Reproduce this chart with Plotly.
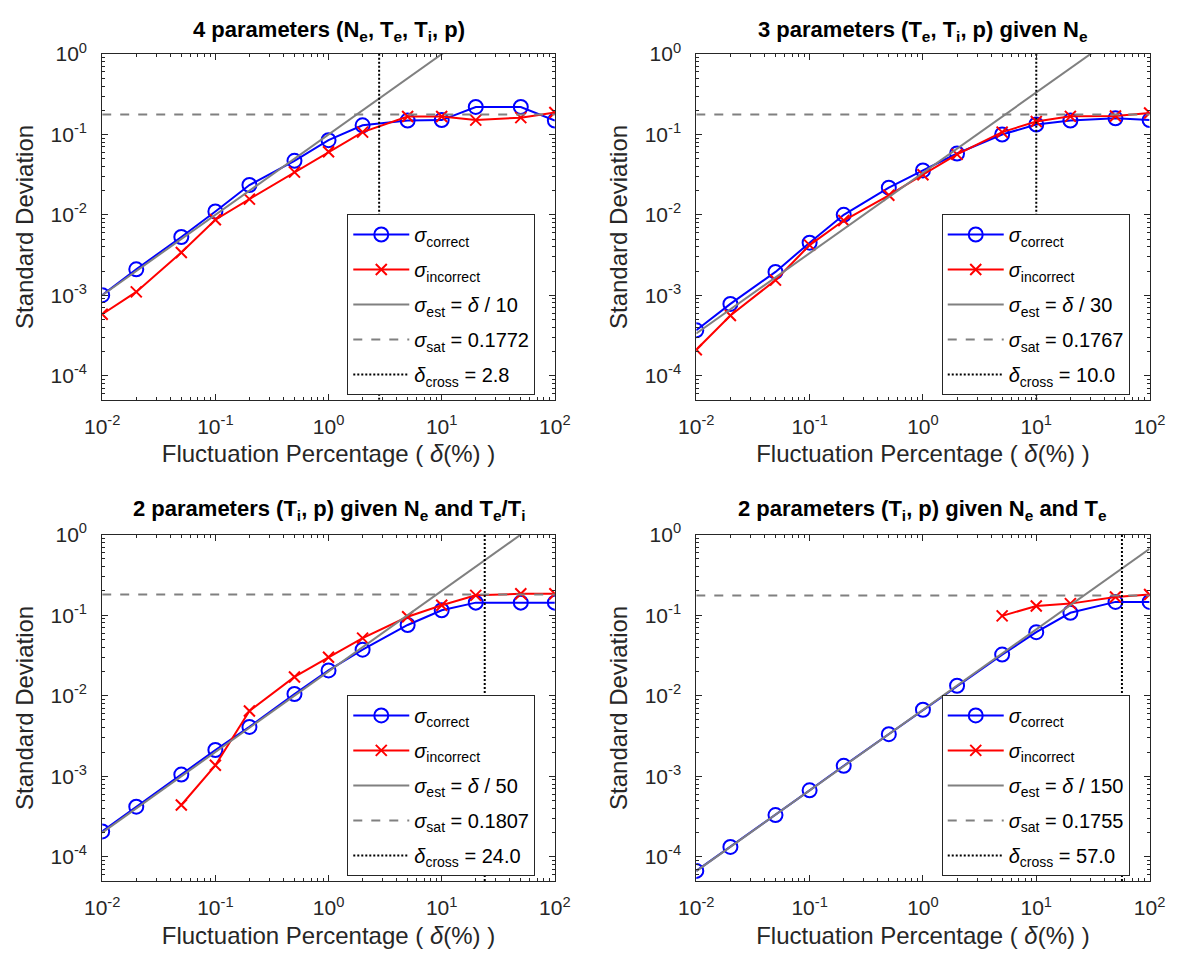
import plotly.graph_objects as go

# Fluctuation percentages (x values shared by every panel)
delta = [0.01, 0.02, 0.05, 0.1, 0.2, 0.5, 1, 2, 5, 10, 20, 50, 100]

# Panel titles
titles = [
    "<b>4 parameters (N<sub>e</sub>, T<sub>e</sub>, T<sub>i</sub>, p)</b>",
    "<b>3 parameters (T<sub>e</sub>, T<sub>i</sub>, p) given N<sub>e</sub></b>",
    "<b>2 parameters (T<sub>i</sub>, p) given N<sub>e</sub> and T<sub>e</sub>/T<sub>i</sub></b>",
    "<b>2 parameters (T<sub>i</sub>, p) given N<sub>e</sub> and T<sub>e</sub></b>",
]

# Standard deviations, correct model
correct_4 = [1.0e-3, 2.1e-3, 5.3e-3, 1.1e-2, 2.35e-2, 0.047, 0.085, 0.13, 0.149, 0.151, 0.22, 0.22, 0.149]
correct_3 = [3.66e-4, 7.8e-4, 1.95e-3, 4.5e-3, 0.0100, 0.0218, 0.0357, 0.058, 0.100, 0.133, 0.149, 0.159, 0.151]
correct_2a = [2.07e-4, 4.2e-4, 1.05e-3, 2.12e-3, 4.1e-3, 0.0105, 0.0206, 0.0373, 0.0755, 0.115, 0.143, 0.143, 0.143]
correct_2b = [6.7e-5, 1.33e-4, 3.3e-4, 6.7e-4, 1.35e-3, 3.33e-3, 6.7e-3, 0.0133, 0.0324, 0.0614, 0.107, 0.146, 0.146]

# Standard deviations, incorrect model (None = no converged value)
incorrect_4 = [5.8e-4, 1.1e-3, 3.4e-3, 8.7e-3, 0.0157, 0.034, 0.061, 0.107, 0.167, 0.167, 0.151, 0.162, 0.188]
incorrect_3 = [2.1e-4, 5.6e-4, 1.54e-3, 4.2e-3, 8.5e-3, 0.0175, 0.0316, 0.0565, 0.107, 0.145, 0.168, 0.170, 0.185]
incorrect_2a = [None, None, 4.4e-4, 1.37e-3, 6.45e-3, 0.0171, 0.030, 0.0519, 0.0955, 0.1325, 0.176, 0.184, 0.184]
incorrect_2b = [None, None, None, None, None, None, None, None, 0.098, 0.130, 0.139, 0.168, 0.180]

# Fit parameters per panel
est_divisor = [10, 30, 50, 150]
sigma_sat = [0.1772, 0.1767, 0.1807, 0.1755]
delta_cross = [2.8, 10.0, 24.0, 57.0]

correct = [correct_4, correct_3, correct_2a, correct_2b]
incorrect = [incorrect_4, incorrect_3, incorrect_2a, incorrect_2b]

W, H = 1186, 957
INK = "#262626"
FONT = "Liberation Sans, Arial, sans-serif"

# Axes boxes in pixels: (left, right, top, bottom)
boxes = [
    (86.7, 552.7, 40.7, 391.5),
    (698.3, 1165.0, 40.7, 391.5),
    (86.7, 552.7, 528.3, 880.0),
    (698.3, 1165.0, 528.3, 880.0),
]
legend_pos = [(339, 203), (951, 203), (339, 691), (951, 691)]
title_y = [17, 17, 503, 503]

YMIN = 5e-5
minor_vals = [m * 10 ** e for e in range(-5, 3) for m in range(2, 10)]

fig = go.Figure()

for i in range(4):
    sfx = "" if i == 0 else str(i + 1)
    xa, ya, lg = "x" + sfx, "y" + sfx, "legend" + sfx
    common = dict(xaxis=xa, yaxis=ya, legend=lg)

    fig.add_trace(go.Scatter(
        x=delta, y=correct[i], mode="lines+markers",
        name="<i>σ</i><sub>correct</sub>", legendgroup=f"c{i}",
        line=dict(color="#0000ff", width=2),
        marker=dict(symbol="circle-open", size=14, color="#0000ff", line=dict(width=2)),
        **common))
    fig.add_trace(go.Scatter(
        x=delta, y=incorrect[i], mode="lines+markers",
        name="<i>σ</i><sub>incorrect</sub>", legendgroup=f"i{i}",
        line=dict(color="#ff0000", width=2),
        marker=dict(symbol="x-thin-open", size=11, color="#ff0000", line=dict(width=2, color="#ff0000")),
        **common))
    fig.add_trace(go.Scatter(
        x=[delta[0], delta[-1]], y=[delta[0] / est_divisor[i], delta[-1] / est_divisor[i]],
        mode="lines", name=f"<i>σ</i><sub>est</sub> = <i>δ</i> / {est_divisor[i]}",
        legendgroup=f"e{i}", line=dict(color="#808080", width=2), **common))
    fig.add_trace(go.Scatter(
        x=[delta[0], delta[-1]], y=[sigma_sat[i], sigma_sat[i]],
        mode="lines", name=f"<i>σ</i><sub>sat</sub> = {sigma_sat[i]:.4f}",
        legendgroup=f"s{i}", line=dict(color="#808080", width=2, dash="9px,9px"), **common))
    fig.add_trace(go.Scatter(
        x=[delta_cross[i], delta_cross[i]], y=[YMIN, 1],
        mode="lines", name=f"<i>δ</i><sub>cross</sub> = {delta_cross[i]:.1f}",
        legendgroup=f"d{i}", line=dict(color="#000000", width=2, dash="2px,2px"), **common))

    l, r, t, b = boxes[i]
    axis_base = dict(
        type="log", showline=True, linecolor=INK, linewidth=1, mirror="allticks",
        ticks="inside", ticklen=6, tickcolor=INK, showgrid=False, zeroline=False,
        tickfont=dict(size=21, color=INK, family=FONT),
        minor=dict(ticks="inside", ticklen=3, tickcolor=INK, tickvals=minor_vals, showgrid=False),
    )
    fig.layout["xaxis" + sfx] = dict(
        axis_base, domain=[l / W, r / W], anchor=ya, range=[-2, 2],
        tickvals=[0.01, 0.1, 1, 10, 100],
        ticktext=["10<sup>-2</sup>", "10<sup>-1</sup>", "10<sup>0</sup>", "10<sup>1</sup>", "10<sup>2</sup>"],
        ticklabelstandoff=8,
        title=dict(text="Fluctuation Percentage ( <i>δ</i>(%) )", font=dict(size=24, color=INK, family=FONT), standoff=8),
    )
    fig.layout["yaxis" + sfx] = dict(
        axis_base, domain=[1 - b / H, 1 - t / H], anchor=xa, range=[-4.30103, 0],
        tickvals=[1e-4, 1e-3, 1e-2, 1e-1, 1],
        ticktext=["10<sup>-4</sup>", "10<sup>-3</sup>", "10<sup>-2</sup>", "10<sup>-1</sup>", "10<sup>0</sup>"],
        ticklabelstandoff=10,
        title=dict(text="Standard Deviation", font=dict(size=24, color=INK, family=FONT), standoff=10),
    )
    lx, ly = legend_pos[i]
    fig.layout[lg] = dict(
        x=lx / W, y=1 - ly / H, xanchor="left", yanchor="top",
        bgcolor="#ffffff", bordercolor=INK, borderwidth=1,
        font=dict(size=20, color="#000000", family=FONT),
        itemwidth=56, tracegroupgap=6, traceorder="grouped",
    )
    fig.add_annotation(
        text=titles[i], xref="paper", yref="paper", x=(l + r) / 2 / W, y=1 - title_y[i] / H,
        xanchor="center", yanchor="middle", showarrow=False,
        font=dict(size=22, color="#000000", family=FONT))

fig.update_layout(
    width=W, height=H, margin=dict(l=0, r=0, t=0, b=0),
    paper_bgcolor="#ffffff", plot_bgcolor="#ffffff",
    font=dict(family=FONT, color=INK), showlegend=True,
)

fig.write_html("out.html")
